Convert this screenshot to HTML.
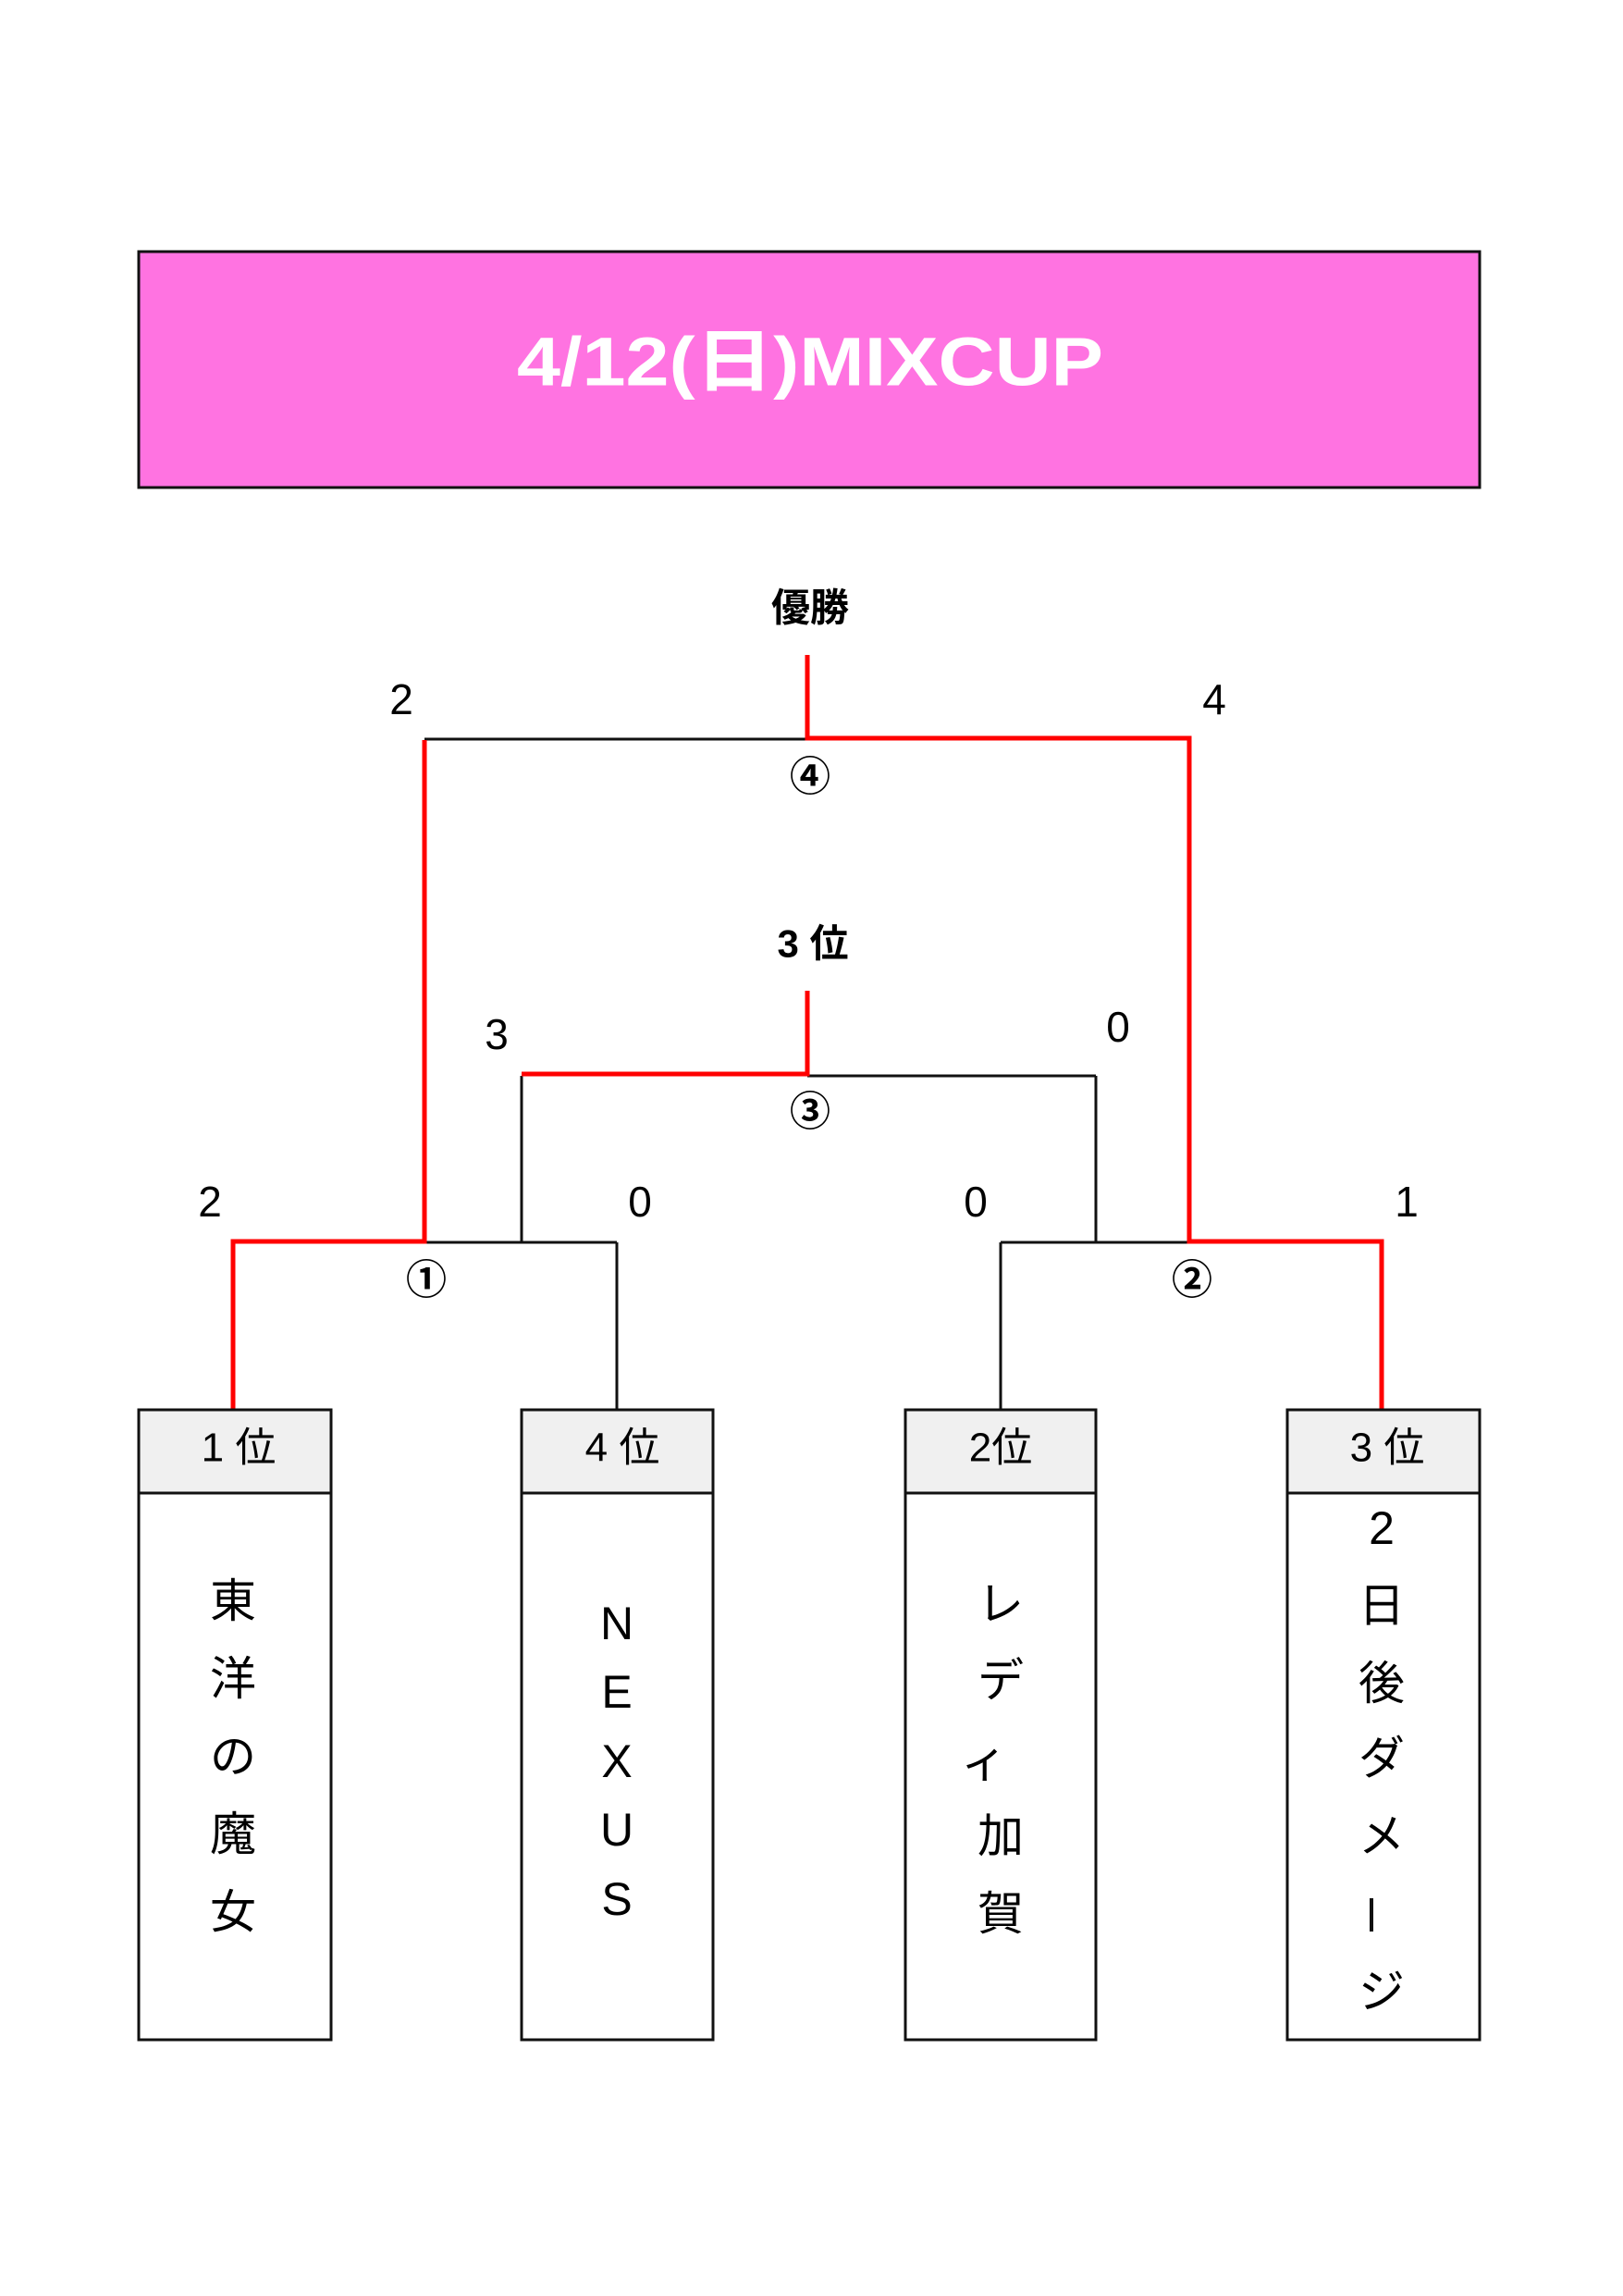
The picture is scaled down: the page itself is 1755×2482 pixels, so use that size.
<!DOCTYPE html>
<html><head><meta charset="utf-8"><style>
html,body{margin:0;padding:0;background:#fff}
svg{display:block}
text{font-family:"Liberation Sans","Noto Sans CJK JP",sans-serif;}
</style></head><body>
<svg width="1755" height="2482" viewBox="0 0 1755 2482" xmlns="http://www.w3.org/2000/svg">
<rect x="150" y="272" width="1450" height="255" fill="#ff73e1" stroke="#111" stroke-width="3"/>
<text x="876" y="391" font-size="74" font-weight="bold" fill="#fff" text-anchor="middle" dominant-baseline="central" textLength="634" lengthAdjust="spacingAndGlyphs">4/12(日)MIXCUP</text>
<text x="876" y="657" font-size="42" font-weight="bold" text-anchor="middle" dominant-baseline="central">優勝</text>
<text x="879" y="1020" font-size="42" font-weight="bold" text-anchor="middle" dominant-baseline="central">3 位</text>
<g font-size="46" text-anchor="middle" dominant-baseline="central">
<text x="434" y="756">2</text><text x="1313" y="756">4</text>
<text x="537" y="1118">3</text><text x="1209" y="1110">0</text>
<text x="227" y="1299">2</text><text x="692" y="1299">0</text>
<text x="1055" y="1299">0</text><text x="1521" y="1299">1</text>
</g>
<g font-size="44" font-weight="bold" text-anchor="middle" dominant-baseline="central">
<text x="876" y="840">④</text><text x="876" y="1202">③</text>
<text x="461" y="1384">①</text><text x="1289" y="1384">②</text>
</g>
<g stroke="#111" stroke-width="3" fill="none">
<line x1="459" y1="799" x2="873" y2="799"/>
<line x1="873" y1="1163" x2="1185" y2="1163"/>
<line x1="564" y1="1163" x2="564" y2="1343"/>
<line x1="1185" y1="1163" x2="1185" y2="1343"/>
<line x1="459" y1="1343" x2="667" y2="1343"/>
<line x1="667" y1="1343" x2="667" y2="1524"/>
<line x1="1082" y1="1343" x2="1286" y2="1343"/>
<line x1="1082" y1="1343" x2="1082" y2="1524"/>
</g>
<g stroke="#f00" stroke-width="5" fill="none">
<polyline points="873,708 873,798 1286,798 1286,1342 1494,1342 1494,1524"/>
<polyline points="459,800 459,1342 252,1342 252,1524"/>
<polyline points="873,1071 873,1161 564,1161"/>
</g>
<g stroke="#111" stroke-width="3">
<rect x="150" y="1524" width="208" height="90" fill="#f0f0f0"/>
<rect x="150" y="1614" width="208" height="591" fill="#fff"/>
<rect x="564" y="1524" width="207" height="90" fill="#f0f0f0"/>
<rect x="564" y="1614" width="207" height="591" fill="#fff"/>
<rect x="979" y="1524" width="206" height="90" fill="#f0f0f0"/>
<rect x="979" y="1614" width="206" height="591" fill="#fff"/>
<rect x="1392" y="1524" width="208" height="90" fill="#f0f0f0"/>
<rect x="1392" y="1614" width="208" height="591" fill="#fff"/>
</g>
<g font-size="44" text-anchor="middle" dominant-baseline="central">
<text x="258" y="1565">1 位</text><text x="673" y="1565">4 位</text>
<text x="1082" y="1565">2位</text><text x="1500" y="1565">3 位</text>
</g>
<g font-size="50" text-anchor="middle" dominant-baseline="central">
<text x="252" y="1731">東</text><text x="252" y="1815">洋</text><text x="252" y="1899">の</text><text x="252" y="1983">魔</text><text x="252" y="2067">女</text>
<text x="667" y="1755">N</text><text x="667" y="1829">E</text><text x="667" y="1904">X</text><text x="667" y="1978">U</text><text x="667" y="2053">S</text>
<text x="1082" y="1734">レ</text><text x="1082" y="1817">デ</text><text x="1064" y="1904">ィ</text><text x="1082" y="1985">加</text><text x="1082" y="2069">賀</text>
<text x="1494" y="1652">2</text><text x="1494" y="1736">日</text><text x="1494" y="1820">後</text><text x="1494" y="1901">ダ</text><text x="1494" y="1985">メ</text><text x="1494" y="2153">ジ</text>
</g>
<line x1="1483" y1="2052" x2="1483" y2="2088" stroke="#111" stroke-width="4"/>
</svg>
</body></html>
